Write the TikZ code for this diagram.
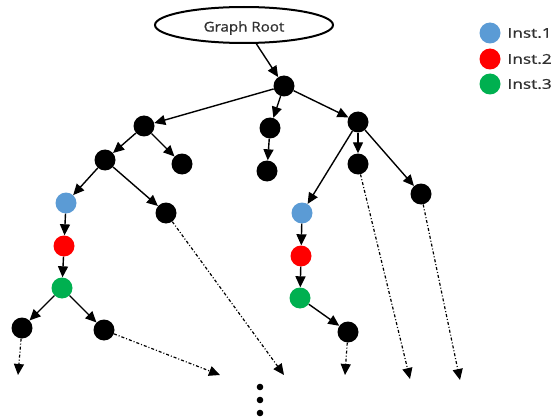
\documentclass[tikz,border=0pt]{standalone}
\usepackage{fontspec}
\usepackage{xcolor}
\usetikzlibrary{arrows.meta,shapes.geometric}
\setmainfont{Open Sans}[BoldFont=Open Sans, BoldFeatures={FakeBold=0.9}]

\definecolor{instblue}{HTML}{5B9BD5}
\definecolor{instred}{HTML}{FF0000}
\definecolor{instgreen}{HTML}{00B050}
\definecolor{txtgray}{HTML}{303030}

\begin{document}
\begin{tikzpicture}[x=1pt, y=-1pt,
        vert/.style={circle, fill=black, inner sep=0pt, minimum size=21pt},
        inst/.style={circle, fill=#1, inner sep=0pt, minimum size=21pt},
        edge/.style={line width=1.4pt, -{Triangle[length=11pt, width=10pt]}},
        more/.style={line width=1.2pt, dash pattern=on 3pt off 2pt on 1pt off 2pt, -{Triangle[length=11pt, width=10pt]}},
        lbl/.style={text=txtgray, font=\fontsize{13.5}{14}\selectfont\bfseries}]
        \useasboundingbox (0, 0) rectangle (555, 420);
        % root
        \node[ellipse, draw, line width=2pt, minimum width=178pt, minimum height=36pt, inner sep=0pt] (root) at (244, 25) {};
        \node[lbl, xscale=1.12] (roottxt) at (244, 28) {Graph Root};
        % legend
        \node[inst=instblue] (leg1) at (490, 33) {};
        \node[inst=instred] (leg2) at (490, 59) {};
        \node[inst=instgreen] (leg3) at (490, 84) {};
        \node[lbl, anchor=west, xscale=1.28] (legtxt1) at (503, 33) {Inst.1};
        \node[lbl, anchor=west, xscale=1.28] (legtxt2) at (503, 59) {Inst.2};
        \node[lbl, anchor=west, xscale=1.28] (legtxt3) at (503, 84) {Inst.3};
        % vertices
        \node[vert] (n1) at (284, 86) {};
        \node[vert] (n2) at (144, 126) {};
        \node[vert] (n3) at (270, 128) {};
        \node[vert] (n4) at (358, 122) {};
        \node[vert] (n5) at (105, 160) {};
        \node[vert] (n6) at (182, 164) {};
        \node[vert] (n7) at (267, 171) {};
        \node[vert] (n8) at (358, 164) {};
        \node[vert] (n9) at (421, 194) {};
        \node[vert] (n10) at (166, 213) {};
        \node[vert] (n11) at (22, 328) {};
        \node[vert] (n12) at (104, 330) {};
        \node[vert] (n13) at (348, 332) {};
        % instance chains
        \node[inst=instblue] (b1) at (66, 203) {};
        \node[inst=instred] (r1) at (64, 246) {};
        \node[inst=instgreen] (g1) at (62, 288) {};
        \node[inst=instblue] (b2) at (302, 213) {};
        \node[inst=instred] (r2) at (301, 256) {};
        \node[inst=instgreen] (g2) at (300, 298) {};
        % open ends
        \coordinate (e1) at (18, 375);
        \coordinate (e2) at (220, 375);
        \coordinate (e3) at (284, 375);
        \coordinate (e4) at (345, 375);
        \coordinate (e5) at (410, 379);
        \coordinate (e6) at (460, 380);
        % edges
        \draw[edge] (root) -- (n1);
        \draw[edge] (n1) -- (n2);
        \draw[edge] (n1) -- (n3);
        \draw[edge] (n1) -- (n4);
        \draw[edge] (n2) -- (n5);
        \draw[edge] (n2) -- (n6);
        \draw[edge] (n3) -- (n7);
        \draw[edge] (n4) -- (b2);
        \draw[edge] (n4) -- (n8);
        \draw[edge] (n4) -- (n9);
        \draw[edge] (n5) -- (b1);
        \draw[edge] (n5) -- (n10);
        \draw[edge] (b1) -- (r1);
        \draw[edge] (r1) -- (g1);
        \draw[edge] (g1) -- (n11);
        \draw[edge] (g1) -- (n12);
        \draw[edge] (b2) -- (r2);
        \draw[edge] (r2) -- (g2);
        \draw[edge] (g2) -- (n13);
        % continuations
        \draw[more] (n11) -- (e1);
        \draw[more] (n12) -- (e2);
        \draw[more] (n10) -- (e3);
        \draw[more] (n13) -- (e4);
        \draw[more] (n8) -- (e5);
        \draw[more] (n9) -- (e6);
        % vertical dots
        \fill (260, 387) circle (3.3);
        \fill (260, 400) circle (3.3);
        \fill (260, 413) circle (3.3);
\end{tikzpicture}
\end{document}
